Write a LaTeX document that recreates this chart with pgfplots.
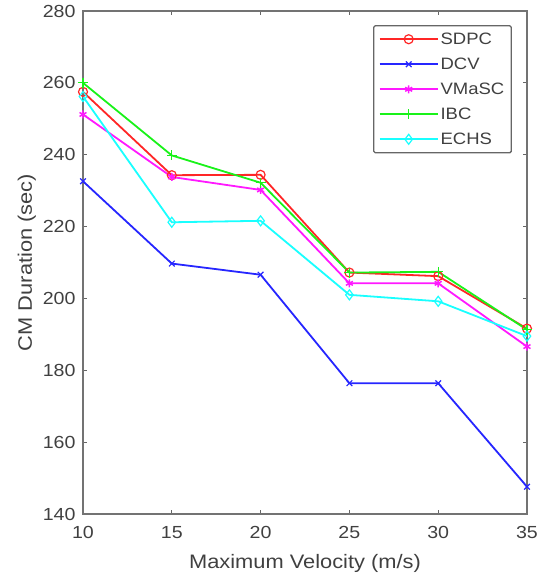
\documentclass[border=0pt]{standalone}
\usepackage{fontspec}
\setmainfont{Liberation Sans}[FakeStretch=1.12]
\usepackage{pgfplots}
\pgfplotsset{compat=1.18}
\definecolor{mred}{rgb}{1,0.15,0.15}
\definecolor{mblue}{rgb}{0.15,0.15,1}
\definecolor{mmag}{rgb}{1,0.1,1}
\definecolor{mgreen}{rgb}{0.1,0.95,0.1}
\definecolor{mcyan}{rgb}{0.1,1,1}
\begin{document}
\begin{tikzpicture}
\begin{axis}[name=ax, scale only axis, width=444pt, height=503pt,
    xmin=10, xmax=35, ymin=140, ymax=280,
    xtick={10,15,...,35}, ytick={140,160,...,280},
    tick align=inside, major tick length=4pt,
    axis line style={black!55, line width=1.4pt},
    tick style={black!60, line width=0.8pt},
    /pgf/number format/assume math mode=true,
    tick label style={font=\fontsize{17.5}{19}\selectfont, text=black!75},
    xticklabel style={yshift=-9pt},
    yticklabel style={xshift=-4pt},
    xlabel={Maximum Velocity (m/s)}, ylabel={CM Duration (sec)},
    label style={font=\fontsize{19.5}{21}\selectfont, text=black!75},
    xlabel style={yshift=-9pt},
    legend cell align=left,
    legend style={at={(0.966,0.972)}, anchor=north east, draw=black!60,
        line width=1.3pt, rounded corners=1.5pt, fill=white,
        font=\fontsize{16.5}{18}\selectfont, text=black!75, row sep=8pt,
        inner xsep=5pt, inner ysep=5pt},
    legend image code/.code={\draw[mark repeat=2, mark phase=2, line width=1.8pt, #1]
        plot coordinates {(0pt,0pt) (29pt,0pt) (58pt,0pt)};},
]
% SDPC
\addplot[color=mred, line width=1.8pt, mark=o, mark size=4.5pt, mark options={solid, line width=1.2pt}]
    coordinates {(10,257.5) (15,234.3) (20,234.4) (25,207.2) (30,206.2) (35,191.6)};
% DCV
\addplot[color=mblue, line width=1.8pt, mark=x, mark size=4pt, mark options={solid, line width=1.2pt}]
    coordinates {(10,232.6) (15,209.7) (20,206.6) (25,176.4) (30,176.4) (35,147.6)};
% VMaSC
\addplot[color=mmag, line width=1.8pt, mark=asterisk, mark size=4pt, mark options={solid, line width=1.5pt}]
    coordinates {(10,251.2) (15,233.8) (20,230.2) (25,204.2) (30,204.2) (35,186.6)};
% IBC
\addplot[color=mgreen, line width=1.8pt, mark=+, mark size=5pt, mark options={solid, line width=1.2pt}]
    coordinates {(10,260) (15,239.8) (20,232.2) (25,207.2) (30,207.4) (35,191.3)};
% ECHS
\addplot[color=mcyan, line width=1.8pt, mark=diamond, mark size=5pt, mark options={solid, line width=1.2pt}]
    coordinates {(10,256.2) (15,221.2) (20,221.6) (25,201) (30,199.2) (35,189.5)};
\legend{SDPC, DCV, VMaSC, IBC, ECHS}
\end{axis}
\pgfresetboundingbox
\path[use as bounding box] ([shift={(-83pt,-70pt)}]ax.south west) rectangle ([shift={(12pt,11pt)}]ax.north east);
\end{tikzpicture}
\end{document}
